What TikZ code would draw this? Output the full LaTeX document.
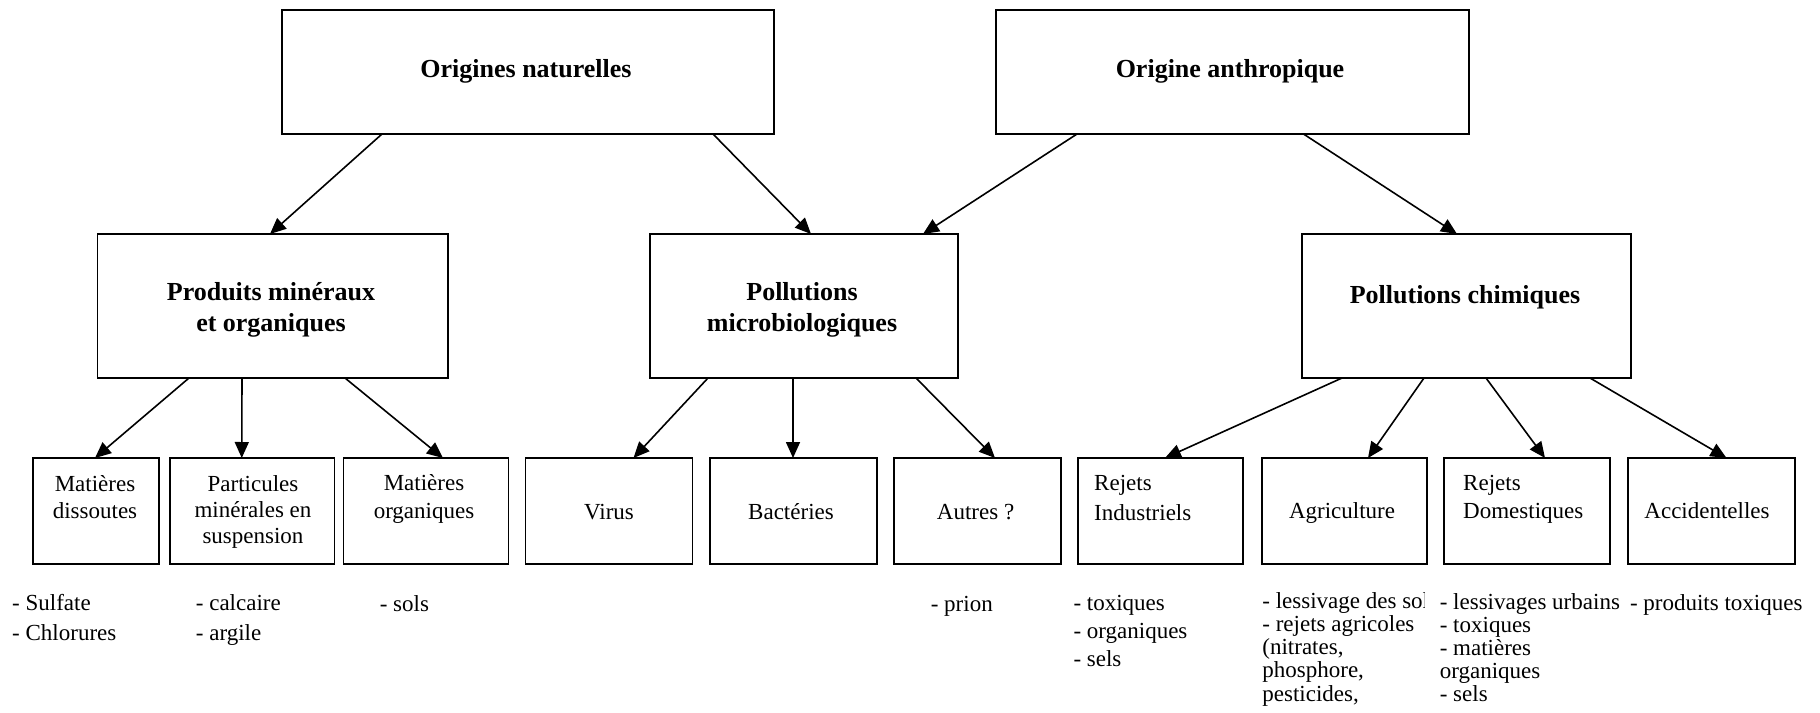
\documentclass[tikz,border=0pt]{standalone}
\usepackage{fontspec}
\setmainfont{Liberation Serif}
\usetikzlibrary{arrows.meta}
% stacked lines whose first baseline is the node's baseline
\newcommand\colc[1]{\begin{tabular}[t]{@{}c@{}}#1\end{tabular}}
\newcommand\coll[1]{\begin{tabular}[t]{@{}l@{}}#1\end{tabular}}

\begin{document}
\begin{tikzpicture}[x=1pt,y=-1pt,
  box/.style={draw, line width=1.6pt, inner sep=0pt, outer sep=0pt},
  arr/.style={line width=1.6pt, -{Triangle[length=16pt,width=14pt]}},
  head/.style={font=\fontsize{26}{#1}\selectfont\bfseries, inner sep=0pt, anchor=base},
  lbl/.style={font=\fontsize{23}{#1}\selectfont, inner sep=0pt, anchor=base},
  lbll/.style={font=\fontsize{23}{#1}\selectfont, inner sep=0pt, anchor=base west},
]
\fill[white] (0,0) rectangle (1820,712);
\useasboundingbox (0,0) rectangle (1820,712);

% top level
\node[box, minimum width=492pt, minimum height=124pt] (nat)  at (528,72) {};
\node[box, minimum width=473pt, minimum height=124pt] (anth) at (1232.5,72) {};
\node[head=32] (t-nat)  at (526,77)  {Origines naturelles};
\node[head=32] (t-anth) at (1230,77) {Origine anthropique};

% middle level
\node[box, minimum width=350.5pt, minimum height=144pt] (prod)  at (272.75,306) {};
\node[box, minimum width=308pt,   minimum height=144pt] (micro) at (804,306) {};
\node[box, minimum width=329pt,   minimum height=144pt] (chim)  at (1466.5,306) {};
\node[head=31.7] (t-prod)  at (271,300) {\colc{Produits minéraux\\et organiques}};
\node[head=31.7] (t-micro) at (802,300) {\colc{Pollutions\\microbiologiques}};
\node[head=32]   (t-chim)  at (1465,303) {Pollutions chimiques};

% bottom level
\node[box, minimum width=126pt, minimum height=106pt] (diss)   at (96,511) {};
\node[box, minimum width=164.5pt, minimum height=106pt] (part) at (252.25,511) {};
\node[box, minimum width=165pt, minimum height=106pt] (morg)   at (426,511) {};
\node[box, minimum width=167pt, minimum height=106pt] (virus)  at (609,511) {};
\node[box, minimum width=167pt, minimum height=106pt] (bact)   at (793.5,511) {};
\node[box, minimum width=167pt, minimum height=106pt] (autres) at (977.5,511) {};
\node[box, minimum width=165pt, minimum height=106pt] (rind)   at (1160.5,511) {};
\node[box, minimum width=165pt, minimum height=106pt] (agri)   at (1344.5,511) {};
\node[box, minimum width=166pt, minimum height=106pt] (rdom)   at (1527,511) {};
\node[box, minimum width=167pt, minimum height=106pt] (acc)    at (1711.5,511) {};

\node[lbl=26.6] (t-diss)   at (95,491.7)  {\colc{Matières\\dissoutes}};
\node[lbl=26]   (t-part)   at (253,491.7) {\colc{Particules\\minérales en\\suspension}};
\node[lbl=28]   (t-morg)   at (424,490)   {\colc{Matières\\organiques}};
\node[lbl=27]   (t-virus)  at (609,519)   {Virus};
\node[lbl=27]   (t-bact)   at (791,519)   {Bactéries};
\node[lbl=27]   (t-autres) at (975.6,519) {Autres ?};
\node[lbll=30]  (t-rind)   at (1094,490)  {\coll{Rejets\\Industriels}};
\node[lbl=27]   (t-agri)   at (1342,518)  {Agriculture};
\node[lbll=28]  (t-rdom)   at (1463,490)  {\coll{Rejets\\Domestiques}};
\node[lbl=27]   (t-acc)    at (1707,518)  {Accidentelles};

% lists under the boxes
\node[lbll=29.5] (l-diss)   at (12,610.5)    {\coll{- Sulfate\\- Chlorures}};
\node[lbll=29.3] (l-part)   at (195.7,610.7) {\coll{- calcaire\\- argile}};
\node[lbll=27]   (l-morg)   at (379.6,611.7) {- sols};
\node[lbll=27]   (l-autres) at (930.6,611.7) {- prion};
\node[lbll=28]   (l-rind)   at (1073.3,610)  {\coll{- toxiques\\- organiques\\- sels}};
\begin{scope}
  \clip (1250,585) rectangle (1424,712);
  \node[lbll=23.3] (l-agri) at (1262.2,608) {\coll{- lessivage des sols\\- rejets agricoles\\(nitrates,\\phosphore,\\pesticides,}};
\end{scope}
\node[lbll=23]   (l-rdom)   at (1439.6,609)  {\coll{- lessivages urbains\\- toxiques\\- matières\\organiques\\- sels}};
\node[lbll=27]   (l-acc)    at (1629.8,610.7) {- produits toxiques};

% connectors
\draw[arr] ([xshift=100pt]nat.south west)   -- ([xshift=172.5pt]prod.north west);
\draw[arr] ([xshift=431pt]nat.south west)   -- ([xshift=161pt]micro.north west);
\draw[arr] ([xshift=81pt]anth.south west)   -- ([xshift=273pt]micro.north west);
\draw[arr] ([xshift=307.5pt]anth.south west) -- ([xshift=155pt]chim.north west);

\draw[arr] ([xshift=91.5pt]prod.south west)  -- ([xshift=62pt]diss.north west);
\draw[arr] ([xshift=144.5pt]prod.south west) -- ([xshift=71.75pt]part.north west);
\draw[arr] ([xshift=247.5pt]prod.south west) -- ([xshift=99.4pt]morg.north west);

\draw[arr] ([xshift=58pt]micro.south west)  -- ([xshift=108pt]virus.north west);
\draw[arr] ([xshift=143pt]micro.south west) -- ([xshift=83pt]bact.north west);
\draw[arr] ([xshift=266pt]micro.south west) -- ([xshift=101pt]autres.north west);

\draw[arr] ([xshift=40pt]chim.south west)  -- ([xshift=87pt]rind.north west);
\draw[arr] ([xshift=122pt]chim.south west) -- ([xshift=106pt]agri.north west);
\draw[arr] ([xshift=184pt]chim.south west) -- ([xshift=101pt]rdom.north west);
\draw[arr] ([xshift=288pt]chim.south west) -- ([xshift=98.5pt]acc.north west);
\end{tikzpicture}
\end{document}
